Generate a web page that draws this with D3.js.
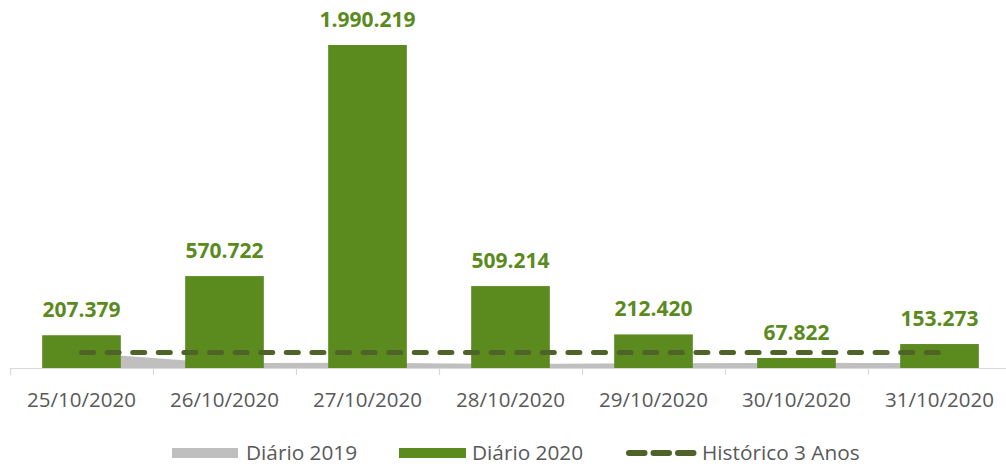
<!DOCTYPE html>
<html>
<head>
<meta charset="utf-8">
<script src="https://cdn.jsdelivr.net/npm/d3@7"></script>
<style>
  html, body { margin: 0; padding: 0; background: #ffffff; }
  svg { display: block; }
</style>
</head>
<body>
<svg id="chart" width="1006" height="468"></svg>
<script>
// ---- data ----
const categories = ["25/10/2020", "26/10/2020", "27/10/2020", "28/10/2020", "29/10/2020", "30/10/2020", "31/10/2020"];
const diario2020 = [207379, 570722, 1990219, 509214, 212420, 67822, 153273];
const diario2019 = [99500, 36000, 38000, 30000, 35000, 38000, 36000];
const historico3Anos = [102000, 102000, 102000, 102000, 102000, 102000, 102000];
const seriesNames = ["Diário 2019", "Diário 2020", "Histórico 3 Anos"];

// ---- styles ----
const GREEN = "#5b8a1e";
const GRAY = "#bfbfbf";
const OLIVE = "#4f6228";
const TEXT = "#595959";
const FONT = "'Open Sans', 'Liberation Sans', sans-serif";

const svg = d3.select("#chart");
const fmt = d3.formatLocale({ decimal: ",", thousands: ".", grouping: [3], currency: ["", ""] }).format(",d");

const x = d3.scaleBand().domain(categories).range([10, 1011]).paddingInner(0.45).paddingOuter(0.225);
const step = x.step();
const cx = c => x(c) + x.bandwidth() / 2;
const y = d3.scaleLinear().domain([0, 1990219]).range([369, 45]);
const axisY = 368;

// area (Diário 2019)
const area = d3.area()
  .x((d, i) => cx(categories[i]))
  .y0(axisY)
  .y1(d => Math.min(y(d), axisY));
svg.append("path").datum(diario2019).attr("d", area).attr("fill", GRAY);

// axis line + ticks
const axisG = svg.append("g");
axisG.append("line").attr("x1", 10).attr("x2", 1006).attr("y1", axisY + 0.5).attr("y2", axisY + 0.5)
  .attr("stroke", "#d9d9d9").attr("stroke-width", 1.2);
const tickXs = categories.map(c => x(c) - x.paddingOuter() * step);
axisG.selectAll("line.tick").data(tickXs).enter().append("line").attr("class", "tick")
  .attr("x1", d => Math.round(d) + 0.5).attr("x2", d => Math.round(d) + 0.5)
  .attr("y1", axisY).attr("y2", axisY + 7)
  .attr("stroke", "#d9d9d9").attr("stroke-width", 1.2);

// bars (Diário 2020)
svg.selectAll("rect.bar").data(diario2020).enter().append("rect").attr("class", "bar")
  .attr("x", (d, i) => x(categories[i]))
  .attr("width", x.bandwidth())
  .attr("y", d => y(d))
  .attr("height", d => axisY - y(d))
  .attr("fill", GREEN);

// value labels
svg.selectAll("text.val").data(diario2020).enter().append("text").attr("class", "val")
  .attr("x", (d, i) => cx(categories[i]))
  .attr("y", d => y(d) - 18)
  .attr("text-anchor", "middle")
  .attr("font-family", FONT).attr("font-weight", "bold").attr("font-size", 21)
  .attr("fill", GREEN)
  .text(d => fmt(d));

// dashed line (Histórico 3 Anos)
const line = d3.line().x((d, i) => cx(categories[i])).y(d => y(d));
svg.append("path").datum(historico3Anos).attr("d", line)
  .attr("fill", "none").attr("stroke", OLIVE).attr("stroke-width", 5)
  .attr("stroke-linecap", "round").attr("stroke-dasharray", "12 13.6");

// category labels
svg.selectAll("text.cat").data(categories).enter().append("text").attr("class", "cat")
  .attr("x", d => cx(d)).attr("y", 407)
  .attr("text-anchor", "middle")
  .attr("font-family", FONT).attr("font-size", 20.5)
  .attr("fill", TEXT)
  .text(d => d);

// legend
const lg = svg.append("g");
const ly = 453;
lg.append("rect").attr("x", 172).attr("y", ly - 5).attr("width", 66).attr("height", 10).attr("fill", GRAY);
lg.append("text").attr("x", 246).attr("y", ly).attr("dy", "0.35em")
  .attr("font-family", FONT).attr("font-size", 20.8).attr("fill", TEXT).text(seriesNames[0]);
lg.append("rect").attr("x", 399).attr("y", ly - 5).attr("width", 67).attr("height", 10).attr("fill", GREEN);
lg.append("text").attr("x", 472).attr("y", ly).attr("dy", "0.35em")
  .attr("font-family", FONT).attr("font-size", 20.8).attr("fill", TEXT).text(seriesNames[1]);
lg.append("line").attr("x1", 629).attr("x2", 694).attr("y1", ly).attr("y2", ly)
  .attr("stroke", OLIVE).attr("stroke-width", 6).attr("stroke-linecap", "round")
  .attr("stroke-dasharray", "15.5 9");
lg.append("text").attr("x", 702).attr("y", ly).attr("dy", "0.35em")
  .attr("font-family", FONT).attr("font-size", 20.8).attr("fill", TEXT).text(seriesNames[2]);
</script>
</body>
</html>
